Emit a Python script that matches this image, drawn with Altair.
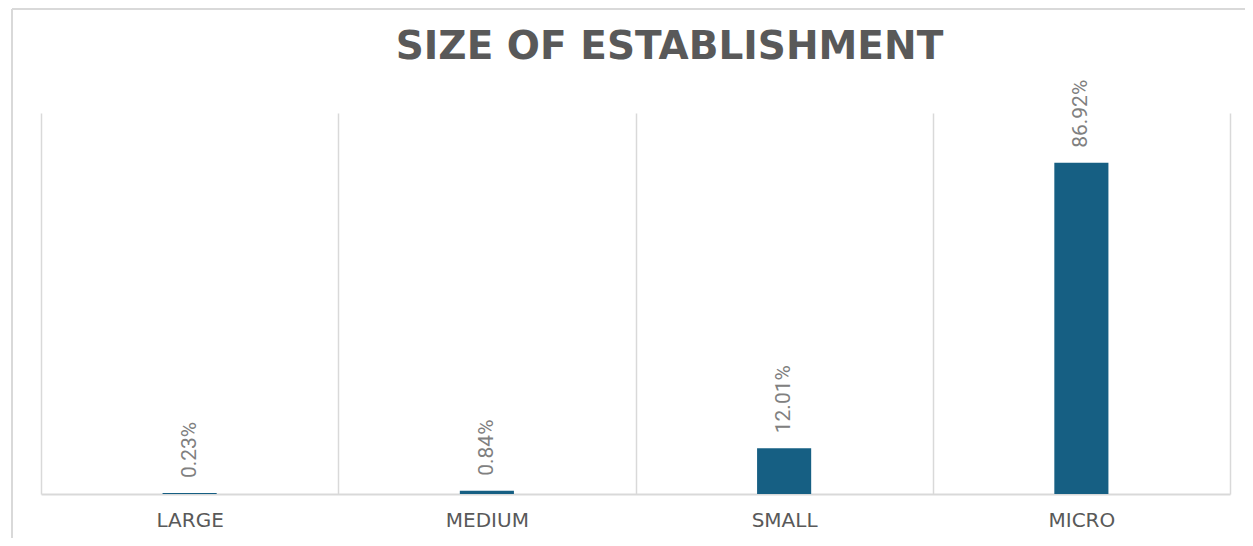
import altair as alt
import pandas as pd

categories = ["LARGE", "MEDIUM", "SMALL", "MICRO"]
shares = [0.23, 0.84, 12.01, 86.92]
value_labels = ["0.23%", "0.84%", "12.01%", "86.92%"]

df = pd.DataFrame({"size": categories, "share": shares, "label": value_labels})

GRID = "#d9d9d9"
BAR = "#165f83"

x_enc = alt.X(
    "size:N",
    sort=categories,
    title=None,
    scale=alt.Scale(paddingInner=0, paddingOuter=0),
    axis=alt.Axis(
        labelAngle=0,
        labelFont="DejaVu Sans",
        labelFontSize=20,
        labelColor="#595959",
        labelPadding=16,
        ticks=False,
        domain=True,
        domainColor=GRID,
        domainWidth=2,
        grid=True,
        gridColor=GRID,
        gridWidth=1.5,
        tickBand="extent",
    ),
)
y_enc = alt.Y("share:Q", scale=alt.Scale(domain=[0, 100]), axis=None)

base = alt.Chart(df)

bars = base.mark_bar(width=alt.RelativeBandSize(0.182), color=BAR).encode(x=x_enc, y=y_enc)

labels = base.mark_text(
    angle=270, align="left", baseline="middle", dx=15,
    font="Roboto", fontSize=21, color="#808080",
).encode(x=x_enc, y=y_enc, text="label:N")

frame_df = pd.DataFrame({"k": [0]})
frame_top = alt.Chart(frame_df).mark_rule(color=GRID, strokeWidth=2).encode(
    x=alt.value(-29), x2=alt.value(1300), y=alt.value(-104)
)
frame_left = alt.Chart(frame_df).mark_rule(color=GRID, strokeWidth=2).encode(
    x=alt.value(-29), y=alt.value(-104), y2=alt.value(600)
)

chart = (
    alt.layer(frame_top, frame_left, bars, labels)
    .properties(
        width=1189,
        height=381,
        title=alt.TitleParams(
            "SIZE OF ESTABLISHMENT",
            font="DejaVu Sans",
            fontSize=39,
            fontWeight="bold",
            color="#595959",
            anchor="middle",
            dx=34,
            baseline="alphabetic",
            offset=-90,
        ),
        padding={"left": 33, "top": 105, "right": 15, "bottom": 44},
        autosize=alt.AutoSizeParams(type="none"),
    )
    .configure_view(stroke=None)
)

chart.save("out.html", embed_options={"renderer": "svg", "actions": False})
